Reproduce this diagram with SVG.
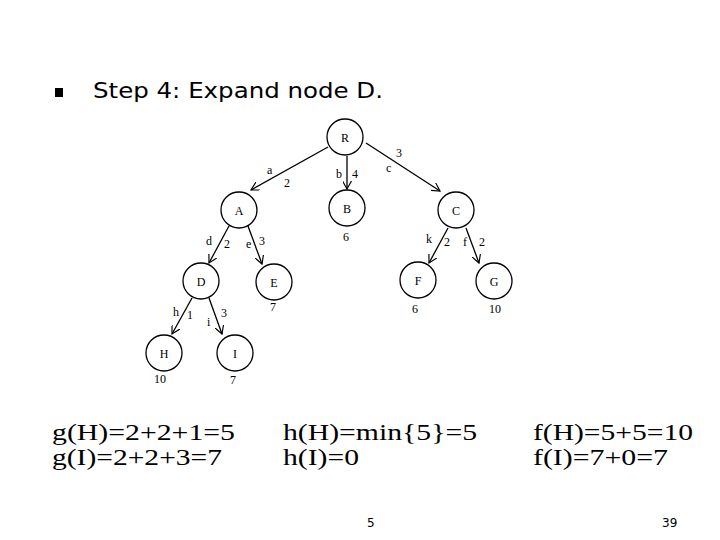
<svg xmlns="http://www.w3.org/2000/svg" width="720" height="540" viewBox="0 0 720 540">
<style>
.n{fill:#fff;stroke:#000;stroke-width:1.3}
.t{font-family:"Liberation Serif",serif;font-size:12px;fill:#000}
.c{text-anchor:middle}
.e{stroke:#000;stroke-width:1.3;fill:none;marker-end:url(#v)}
.f{font-family:"Liberation Serif",serif;font-size:23px;fill:#000}
.s{font-family:"DejaVu Sans",sans-serif;fill:#000}
</style>
<defs><marker id="v" viewBox="0 0 10 10" refX="9" refY="5" markerWidth="9" markerHeight="9" orient="auto" markerUnits="userSpaceOnUse"><path d="M0,0L9,5L0,10" fill="none" stroke="#000" stroke-width="1.3"/></marker></defs>
<rect width="720" height="540" fill="#fff"/>
<rect x="55" y="88" width="8" height="9" fill="#000"/>
<text class="s" x="93" y="98" font-size="21" textLength="290" lengthAdjust="spacingAndGlyphs">Step 4: Expand node D.</text>
<g id="connectors">
<line class="e" x1="328" y1="147" x2="251" y2="190"/>
<line class="e" x1="347" y1="156" x2="347" y2="189"/>
<line class="e" x1="366" y1="143" x2="440" y2="191"/>
<line class="e" x1="229" y1="226" x2="209" y2="263"/>
<line class="e" x1="248" y1="226" x2="262" y2="264"/>
<line class="e" x1="192" y1="298" x2="172" y2="334"/>
<line class="e" x1="209" y1="298" x2="222" y2="334"/>
<line class="e" x1="448" y1="228" x2="429" y2="263"/>
<line class="e" x1="466" y1="228" x2="479" y2="263"/>
<text class="t" x="267" y="174">a</text><text class="t" x="284" y="187">2</text>
<text class="t" x="336" y="178">b</text><text class="t" x="352" y="178">4</text>
<text class="t" x="396" y="157">3</text><text class="t" x="386" y="172">c</text>
<text class="t" x="206" y="245">d</text><text class="t" x="224" y="248">2</text>
<text class="t" x="246" y="248">e</text><text class="t" x="259" y="245">3</text>
<text class="t" x="426" y="243">k</text><text class="t" x="444" y="246">2</text>
<text class="t" x="463" y="246">f</text><text class="t" x="479" y="246">2</text>
<text class="t" x="173" y="316">h</text><text class="t" x="187" y="319">1</text>
<text class="t" x="207" y="326">i</text><text class="t" x="221" y="317">3</text>
</g>
<g id="R"><circle class="n" cx="345" cy="137" r="18"/><text class="t c" x="345" y="142">R</text></g>
<g id="A"><circle class="n" cx="239" cy="210" r="18"/><text class="t c" x="239" y="215">A</text></g>
<g id="B"><circle class="n" cx="347" cy="208" r="18"/><text class="t c" x="347" y="213">B</text><text class="t c" x="346" y="241">6</text></g>
<g id="C"><circle class="n" cx="456" cy="210" r="18"/><text class="t c" x="456" y="215">C</text></g>
<g id="D"><circle class="n" cx="201" cy="281" r="18"/><text class="t c" x="201" y="286">D</text></g>
<g id="E"><circle class="n" cx="274" cy="282" r="18"/><text class="t c" x="274" y="287">E</text><text class="t c" x="273" y="311">7</text></g>
<g id="F"><circle class="n" cx="418" cy="280" r="18"/><text class="t c" x="418" y="285">F</text><text class="t c" x="415" y="313">6</text></g>
<g id="G"><circle class="n" cx="494" cy="281" r="18"/><text class="t c" x="494" y="286">G</text><text class="t c" x="495" y="313">10</text></g>
<g id="H"><circle class="n" cx="164" cy="353" r="18"/><text class="t c" x="164" y="358">H</text><text class="t c" x="160" y="383">10</text></g>
<g id="I"><circle class="n" cx="235" cy="353" r="18"/><text class="t c" x="235" y="358">I</text><text class="t c" x="233" y="384">7</text></g>
<text class="f" x="52" y="440" textLength="183" lengthAdjust="spacingAndGlyphs">g(H)=2+2+1=5</text>
<text class="f" x="52" y="465" textLength="170" lengthAdjust="spacingAndGlyphs">g(I)=2+2+3=7</text>
<text class="f" x="283" y="440" textLength="194" lengthAdjust="spacingAndGlyphs">h(H)=min{5}=5</text>
<text class="f" x="283" y="465" textLength="76" lengthAdjust="spacingAndGlyphs">h(I)=0</text>
<text class="f" x="533" y="440" textLength="160" lengthAdjust="spacingAndGlyphs">f(H)=5+5=10</text>
<text class="f" x="533" y="465" textLength="135" lengthAdjust="spacingAndGlyphs">f(I)=7+0=7</text>
<text class="s" x="367" y="527" font-size="12" fill="#333">5</text>
<text class="s" x="662" y="527" font-size="12">39</text>
</svg>
